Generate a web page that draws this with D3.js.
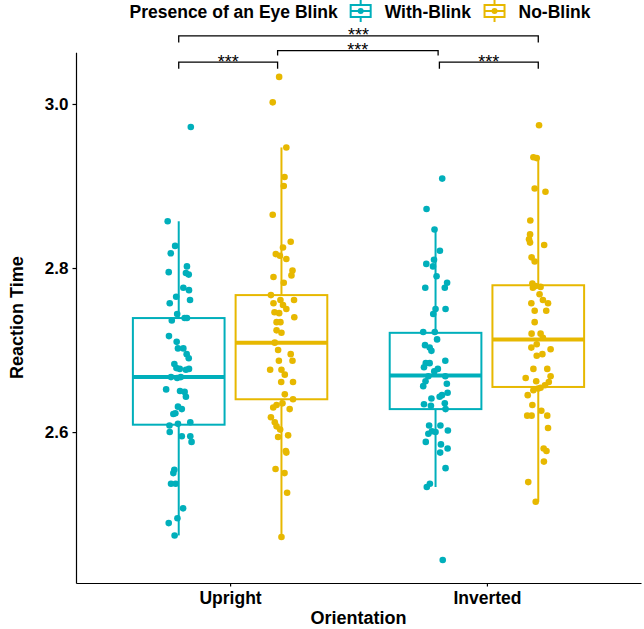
<!DOCTYPE html>
<html>
<head>
<meta charset="utf-8">
<script src="https://cdn.jsdelivr.net/npm/d3@7"></script>
<style>
  body { margin: 0; background: #fff; }
  text { font-family: "Liberation Sans", Arial, sans-serif; }
</style>
</head>
<body>
<div id="chart"></div>
<script>
// categories / groups
const orientations = ["Upright", "Inverted"];
const blinkGroups = ["With-Blink", "No-Blink"];
const groupColors = ["#00AFBB", "#E7B800"];
const yTicks = [2.6, 2.8, 3.0];

// box stats, order: Upright/With, Upright/No, Inverted/With, Inverted/No
const whiskerLow = [2.474, 2.472, 2.533, 2.515];
const quart1 = [2.609, 2.640, 2.628, 2.655];
const medians = [2.667, 2.709, 2.669, 2.713];
const quart3 = [2.739, 2.767, 2.721, 2.779];
const whiskerHigh = [2.857, 2.947, 2.847, 2.935];

// points: [reaction time, jitter offset]
const uprightWith = [
  [2.972, 0.047], [2.857, -0.043], [2.827, -0.014], [2.818, -0.031], [2.795, -0.039],
  [2.802, 0.032], [2.794, 0.028], [2.792, 0.039], [2.776, 0.018], [2.773, 0.040],
  [2.765, -0.010], [2.757, -0.035], [2.761, 0.044], [2.744, -0.006], [2.736, -0.027],
  [2.739, 0.023], [2.739, 0.032], [2.717, -0.038], [2.710, -0.008], [2.702, -0.003],
  [2.702, 0.018], [2.695, 0.031], [2.690, 0.039], [2.683, -0.017], [2.678, -0.009],
  [2.677, 0.004], [2.676, 0.028], [2.677, 0.040], [2.667, -0.030], [2.666, -0.006],
  [2.667, 0.008], [2.652, -0.049], [2.650, 0.005], [2.649, 0.023], [2.643, 0.028],
  [2.631, -0.003], [2.628, 0.012], [2.623, -0.013], [2.622, -0.021], [2.608, -0.036],
  [2.610, -0.003], [2.612, 0.045], [2.600, -0.035], [2.595, 0.012], [2.595, 0.045],
  [2.588, 0.050], [2.554, -0.017], [2.550, -0.021], [2.537, -0.030], [2.537, -0.012],
  [2.507, 0.017], [2.495, -0.005], [2.489, -0.039], [2.474, -0.016]
];
const uprightNo = [
  [3.033, -0.009], [3.002, -0.034], [2.947, 0.019], [2.911, 0.012], [2.900, 0.009],
  [2.865, -0.034], [2.832, 0.036], [2.825, 0.006], [2.817, -0.022], [2.815, -0.006],
  [2.811, 0.019], [2.797, 0.043], [2.791, 0.039], [2.789, -0.031], [2.782, 0.009],
  [2.767, -0.041], [2.761, -0.004], [2.761, 0.049], [2.757, -0.031], [2.755, 0.006],
  [2.750, 0.019], [2.746, -0.027], [2.745, -0.009], [2.740, 0.050], [2.734, -0.019],
  [2.734, -0.004], [2.724, -0.019], [2.721, 0.000], [2.709, -0.026], [2.700, -0.013],
  [2.695, 0.036], [2.687, -0.010], [2.687, 0.043], [2.676, -0.044], [2.676, 0.000],
  [2.670, 0.013], [2.661, -0.001], [2.661, 0.045], [2.646, 0.013], [2.640, 0.045],
  [2.633, -0.019], [2.630, -0.032], [2.635, 0.004], [2.628, 0.032], [2.618, -0.041],
  [2.612, -0.026], [2.607, -0.019], [2.603, -0.005], [2.594, -0.013], [2.596, 0.026],
  [2.577, 0.017], [2.575, 0.019], [2.555, -0.023], [2.550, 0.012], [2.526, 0.022],
  [2.472, 0.000]
];
const invertedWith = [
  [2.909, 0.026], [2.872, -0.035], [2.847, -0.004], [2.821, 0.017], [2.805, -0.036],
  [2.810, -0.006], [2.802, -0.010], [2.790, 0.004], [2.782, 0.045], [2.776, 0.036],
  [2.776, -0.040], [2.750, 0.000], [2.750, 0.039], [2.744, -0.009], [2.722, -0.048],
  [2.722, -0.003], [2.713, 0.006], [2.706, -0.041], [2.703, -0.023], [2.699, -0.016],
  [2.684, -0.038], [2.684, -0.023], [2.687, 0.038], [2.679, -0.045], [2.677, 0.009],
  [2.674, -0.005], [2.668, -0.028], [2.668, 0.038], [2.662, -0.039], [2.656, -0.048],
  [2.659, 0.044], [2.641, -0.016], [2.643, 0.016], [2.645, 0.025], [2.648, 0.047],
  [2.635, 0.036], [2.634, -0.045], [2.632, -0.018], [2.628, 0.039], [2.608, -0.025],
  [2.608, 0.019], [2.601, -0.014], [2.602, 0.048], [2.598, -0.028], [2.600, 0.000],
  [2.588, -0.038], [2.585, 0.021], [2.580, 0.047], [2.575, 0.018], [2.556, 0.039],
  [2.537, -0.022], [2.533, -0.034], [2.444, 0.028]
];
const invertedNo = [
  [2.974, 0.003], [2.935, -0.019], [2.934, -0.006], [2.897, -0.014], [2.893, 0.028],
  [2.858, -0.031], [2.841, -0.032], [2.835, -0.036], [2.831, -0.032], [2.828, 0.023],
  [2.813, -0.026], [2.808, -0.014], [2.781, -0.023], [2.778, -0.010], [2.777, 0.009],
  [2.776, -0.021], [2.768, 0.005], [2.761, 0.018], [2.757, 0.038], [2.757, -0.027],
  [2.748, -0.014], [2.748, 0.031], [2.734, -0.014], [2.720, -0.026], [2.720, 0.009],
  [2.715, 0.018], [2.703, -0.027], [2.707, -0.006], [2.701, 0.048], [2.695, 0.016],
  [2.693, -0.006], [2.677, -0.019], [2.677, 0.035], [2.666, -0.049], [2.668, 0.048],
  [2.662, -0.008], [2.661, 0.041], [2.657, 0.026], [2.654, 0.009], [2.653, 0.000],
  [2.651, -0.019], [2.645, -0.041], [2.633, -0.023], [2.626, 0.012], [2.620, -0.043],
  [2.620, -0.026], [2.620, 0.035], [2.605, 0.038], [2.580, 0.021], [2.577, 0.032],
  [2.564, 0.022], [2.539, -0.039], [2.515, -0.010]
];
const groupPoints = [uprightWith, uprightNo, invertedWith, invertedNo];

// significance brackets (x in axis units, y in reaction time units)
const bracketStart = [0.8, 1.815, 1.185, 0.8];
const bracketEnd = [1.185, 2.2, 1.81, 2.2];
const bracketLevel = [3.051, 3.051, 3.065, 3.083];
const bracketTip = [3.043, 3.043, 3.059, 3.075];
const bracketLabel = ["***", "***", "***", "***"];

const width = 644, height = 629;
const margin = { top: 52.3, right: 3, bottom: 46, left: 76 };
const dodge = 0.2, boxWidth = 0.357;

const svg = d3.select("#chart").append("svg")
  .attr("width", width)
  .attr("height", height);

const x = d3.scaleLinear()
  .domain([0.4, 2.6])
  .range([margin.left, width - margin.right]);
const y = d3.scaleLinear()
  .domain([2.416, 3.063])
  .range([height - margin.bottom, margin.top]);

// boxes
const boxes = d3.range(4).map(i => ({
  pos: Math.floor(i / 2) + 1 + (i % 2 === 0 ? -dodge : dodge),
  color: groupColors[i % 2],
  lo: whiskerLow[i], q1: quart1[i], med: medians[i], q3: quart3[i], hi: whiskerHigh[i],
  pts: groupPoints[i]
}));

const box = svg.append("g").selectAll("g").data(boxes).join("g");
box.append("line")
  .attr("x1", d => x(d.pos)).attr("x2", d => x(d.pos))
  .attr("y1", d => y(d.q3)).attr("y2", d => y(d.hi))
  .attr("stroke", d => d.color).attr("stroke-width", 2);
box.append("line")
  .attr("x1", d => x(d.pos)).attr("x2", d => x(d.pos))
  .attr("y1", d => y(d.q1)).attr("y2", d => y(d.lo))
  .attr("stroke", d => d.color).attr("stroke-width", 2);
box.append("rect")
  .attr("x", d => x(d.pos - boxWidth / 2))
  .attr("width", d => x(d.pos + boxWidth / 2) - x(d.pos - boxWidth / 2))
  .attr("y", d => y(d.q3))
  .attr("height", d => y(d.q1) - y(d.q3))
  .attr("fill", "#fff")
  .attr("stroke", d => d.color).attr("stroke-width", 2);
box.append("line")
  .attr("x1", d => x(d.pos - boxWidth / 2)).attr("x2", d => x(d.pos + boxWidth / 2))
  .attr("y1", d => y(d.med)).attr("y2", d => y(d.med))
  .attr("stroke", d => d.color).attr("stroke-width", 4);

// jittered points
box.each(function (d) {
  d3.select(this).selectAll("circle")
    .data(d.pts)
    .join("circle")
    .attr("cx", p => x(d.pos + p[1]))
    .attr("cy", p => y(p[0]))
    .attr("r", 3.3)
    .attr("fill", d.color);
});

// axes
const yAxis = svg.append("g")
  .attr("transform", `translate(${margin.left},0)`)
  .call(d3.axisLeft(y).tickValues(yTicks).tickFormat(d3.format(".1f"))
    .tickSizeInner(3.5).tickSizeOuter(0).tickPadding(4));
const xAxis = svg.append("g")
  .attr("transform", `translate(0,${height - margin.bottom})`)
  .call(d3.axisBottom(x).tickValues([1, 2]).tickFormat(d => orientations[d - 1])
    .tickSizeInner(3.5).tickSizeOuter(0).tickPadding(5));
[xAxis, yAxis].forEach(a => {
  a.select(".domain").attr("stroke", "#000").attr("stroke-width", 1.2);
  a.selectAll(".tick line").attr("stroke", "#000").attr("stroke-width", 1.2);
  a.selectAll(".tick text")
    .attr("fill", "#000")
    .style("font-family", '"Liberation Sans", Arial, sans-serif')
    .style("font-weight", "bold")
    .style("font-size", "17px");
});
xAxis.selectAll(".tick text").style("font-size", "17.5px");

// axis titles
svg.append("text")
  .attr("x", (margin.left + width - margin.right) / 2)
  .attr("y", 624)
  .attr("text-anchor", "middle")
  .style("font-weight", "bold").style("font-size", "18px")
  .text("Orientation");
svg.append("text")
  .attr("transform", `translate(23,${(margin.top + height - margin.bottom) / 2}) rotate(-90)`)
  .attr("text-anchor", "middle")
  .style("font-weight", "bold").style("font-size", "18px")
  .text("Reaction Time");

// significance brackets
const brackets = bracketLabel.map((label, i) => ({
  x0: bracketStart[i], x1: bracketEnd[i], lvl: bracketLevel[i], tip: bracketTip[i], label
}));
const br = svg.append("g").selectAll("g").data(brackets).join("g");
br.append("path")
  .attr("d", d => `M${x(d.x0)},${y(d.tip)}V${y(d.lvl)}H${x(d.x1)}V${y(d.tip)}`)
  .attr("fill", "none")
  .attr("stroke", "#000")
  .attr("stroke-width", 1.3);
br.append("text")
  .attr("x", d => x((d.x0 + d.x1) / 2))
  .attr("y", d => y(d.lvl) + 5.5)
  .attr("text-anchor", "middle")
  .style("font-size", "18px")
  .text(d => d.label);

// legend
const legend = svg.append("g");
const title = legend.append("text")
  .attr("x", 0).attr("y", 17.5)
  .style("font-weight", "bold").style("font-size", "17.5px")
  .text("Presence of an Eye Blink");
let cursor = title.node().getComputedTextLength() + 12;
blinkGroups.forEach((g, i) => {
  const key = legend.append("g").attr("transform", `translate(${cursor + 11},11)`);
  key.append("line").attr("y1", -11).attr("y2", 11)
    .attr("stroke", groupColors[i]).attr("stroke-width", 2);
  key.append("rect").attr("x", -10).attr("y", -6).attr("width", 20).attr("height", 12)
    .attr("fill", "#fff").attr("stroke", groupColors[i]).attr("stroke-width", 2);
  key.append("line").attr("x1", -10).attr("x2", 10)
    .attr("stroke", groupColors[i]).attr("stroke-width", 2);
  key.append("circle").attr("r", 3).attr("fill", groupColors[i]);
  cursor += 22 + 13;
  const t = legend.append("text")
    .attr("x", cursor).attr("y", 17.5)
    .style("font-weight", "bold").style("font-size", "17.5px")
    .text(g);
  cursor += t.node().getComputedTextLength() + 12.5;
});
const legendWidth = cursor - 12.5;
legend.attr("transform", `translate(${(margin.left + width - margin.right) / 2 - legendWidth / 2 + 1.5},0)`);
</script>
</body>
</html>
